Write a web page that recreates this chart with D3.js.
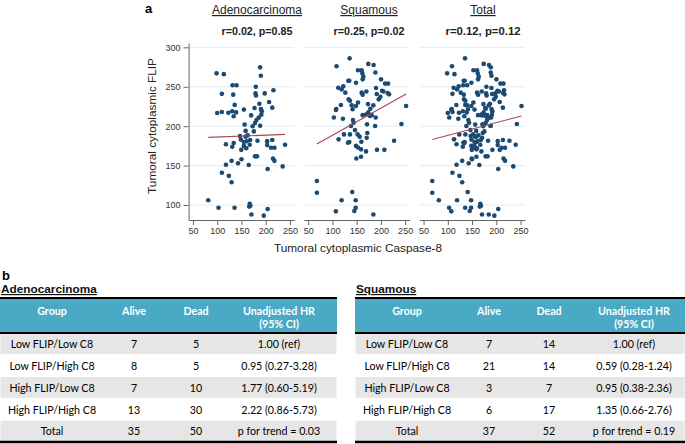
<!DOCTYPE html>
<html><head><meta charset="utf-8">
<script src="https://cdn.jsdelivr.net/npm/d3@7/dist/d3.min.js"></script>
<style>
html,body{margin:0;padding:0;background:#fff;}
svg{display:block;}
</style></head>
<body>
<svg id="chart" width="685" height="444"></svg>
<script>
// ---------- DATA ----------
const panelTitles = ["Adenocarcinoma", "Squamous", "Total"];
const panelStats = ["r=0.02, p=0.85", "r=0.25, p=0.02", "r=0.12,  p=0.12"];
const xTicks = [50, 100, 150, 200, 250];
const yTicks = [100, 150, 200, 250, 300];

const adenoPts = [[98.6,267],[113.7,266],[188.6,274.6],[190,264],[109.6,241],[131.6,252],[139.9,252],[133,240],[179.6,250],[179,241.6],[180,239],[198,241.6],[216,245.5],[207,230.7],[187,228.5],[136,227],[100,216.7],[109.6,218],[123,217],[131,219],[139,217.5],[134,212.5],[155,221],[177,223],[190,221.8],[192,218.8],[191,214.6],[170,213.7],[185.6,210.8],[213.6,223.5],[181,207.8],[178,204],[173,200],[156.5,202],[158.6,194],[175.5,193.4],[188.6,200.6],[147,187.5],[158.6,186.7],[163,188.4],[118,177],[134,178.6],[131,174],[148.8,183],[155,180],[155,175],[161,180.8],[168,182.5],[167,176.5],[160,172],[149.6,170],[183,181.6],[203,181],[203,176],[211,172.7],[218,172.7],[213.6,182.5],[240,176.5],[178,161.7],[182,161.7],[215,159],[218,156],[143,153],[150,158],[129.7,156],[118,151],[165,150.7],[204,145.7],[235,149],[109.6,141],[124,137],[129.7,128.8],[81.5,106],[102.7,96.6],[135.8,96.6],[167,101.7],[168.4,99],[166,98],[170.6,88],[196,86.5],[204,95]];

const squamPts = [[135.5,286],[108.6,276],[174,279],[185,277.6],[152.8,271],[160.3,271],[161.7,267],[163.8,262.8],[162.4,259.4],[188.6,268],[132.8,257.7],[134.8,257.7],[148.6,255],[200.3,259.4],[208.6,254],[214.8,254],[112,248.8],[119,246.7],[122.4,250.5],[126.6,242.5],[160.3,242.5],[162.4,240],[170,244],[190,248.4],[191.4,240.8],[202.4,245],[205.2,244],[214,242],[216.9,240.4],[199,237.4],[195.5,234],[133.4,234],[136.2,232.3],[152.8,230],[173.4,228],[178.3,222.2],[184.5,226.4],[139.7,226.4],[141.7,221.4],[117.6,226.8],[108,221.8],[107.2,220.5],[148.6,225.6],[174,217.5],[170,215],[181,214],[162.4,214],[103,211],[121.7,209.5],[142.4,207.8],[143.8,204.4],[177.6,212.9],[189.3,211],[252,225.6],[242.4,202.7],[171.4,202.3],[188,200.2],[138.3,200.2],[146.6,195],[136.2,189.6],[112.8,183.3],[123.8,189.6],[152,189.6],[156.2,186.7],[170.7,185.4],[172,191.3],[134.8,180],[132,179],[159.7,180.3],[148.6,175],[152.8,173],[159,170.6],[169.3,168],[192,170],[207.2,170],[227.2,181.6],[159,161.3],[149.3,159],[68,130.4],[68,115.6],[119,106],[141,116.5],[148,106],[148,96.6],[145.2,92.4],[107.2,92],[184.5,88]];

const totalPts = adenoPts.concat(squamPts);
const fitSlope = [0.024, 0.345, 0.162];
const fitIntercept = [183.8, 154.0, 172.1];

const tableGroups = ["Low FLIP/Low C8","Low FLIP/High C8","High FLIP/Low C8","High FLIP/High C8","Total"];
const tableHeaders = [["Group"],["Alive"],["Dead"],["Unadjusted HR","(95% CI)"]];
const adenoAlive = [7,8,7,13,35];
const adenoDead = [5,5,10,30,50];
const adenoHR = ["1.00 (ref)","0.95 (0.27-3.28)","1.77 (0.60-5.19)","2.22 (0.86-5.73)","p for trend = 0.03"];
const squamAlive = [7,21,3,6,37];
const squamDead = [14,14,7,17,52];
const squamHR = ["1.00 (ref)","0.59 (0.28-1.24)","0.95 (0.38-2.36)","1.35 (0.66-2.76)","p for trend = 0.19"];

// ---------- LAYOUT ----------
const svg = d3.select("#chart");
const FONT = "'Liberation Sans', Arial, sans-serif";
const TFONT = "Lato, 'Open Sans', sans-serif";
const dotColor = "#1b4a72";
const lineColor = "#a8464d";
const gridColor = "#e3ecf0";
const axisColor = "#666";

const BODY_SIZE = 11.6, HEAD_SIZE = 11.6;
const bodyScale = 0.92;
function fitScale(str, weight, size, target) {
  const t = svg.append("text").attr("font-family", TFONT).attr("font-weight", weight)
    .attr("font-size", size).text(str);
  const w = t.node().getComputedTextLength();
  t.remove();
  return target / w;
}
const headScale = fitScale("Unadjusted HR", "bold", HEAD_SIZE, 72);

const y = d3.scaleLinear().domain([81, 305.5]).range([220, 43]);
const panelLefts = [188.6, 303.8, 419.2];
const panelW = 105.7;
const panels = [adenoPts, squamPts, totalPts];
const titleX = [257, 369, 483];

svg.append("text").attr("x", 145).attr("y", 13).text("a")
  .attr("font-family", FONT).attr("font-weight", "bold").attr("font-size", 13);

panels.forEach((pts, i) => {
  const x = d3.scaleLinear().domain([41, 259]).range([panelLefts[i], panelLefts[i] + panelW]);
  const g = svg.append("g");
  g.selectAll("line.grid").data(yTicks).join("line")
    .attr("x1", panelLefts[i] + 1).attr("x2", panelLefts[i] + panelW)
    .attr("y1", d => y(d)).attr("y2", d => y(d))
    .attr("stroke", gridColor).attr("stroke-width", 1);
  const xa = g.append("g").attr("transform", "translate(0,220)")
    .call(d3.axisBottom(x).tickValues(xTicks).tickSize(5).tickSizeOuter(0).tickPadding(3));
  xa.selectAll("path,line").attr("stroke", axisColor);
  xa.selectAll("text").attr("font-family", FONT).attr("font-size", 9).attr("fill", "#333");
  g.selectAll("circle").data(pts).join("circle")
    .attr("cx", d => x(d[0])).attr("cy", d => y(d[1])).attr("r", 2.3)
    .attr("fill", dotColor);
  const xs = d3.extent(pts, d => d[0]);
  g.append("line")
    .attr("x1", x(xs[0])).attr("y1", y(fitIntercept[i] + fitSlope[i] * xs[0]))
    .attr("x2", x(xs[1])).attr("y2", y(fitIntercept[i] + fitSlope[i] * xs[1]))
    .attr("stroke", lineColor).attr("stroke-width", 1.1);
  svg.append("text").attr("x", titleX[i]).attr("y", 14).attr("text-anchor", "middle")
    .attr("font-family", FONT).attr("font-size", 12).attr("fill", "#222")
    .attr("text-decoration", "underline").text(panelTitles[i]);
  svg.append("text").attr("x", titleX[i]).attr("y", 35).attr("text-anchor", "middle")
    .attr("font-family", FONT).attr("font-size", 11).attr("font-weight", "bold").attr("fill", "#222")
    .attr("textLength", i === 2 ? 75 : 71).attr("lengthAdjust", "spacingAndGlyphs")
    .text(panelStats[i]);
});

const ya = svg.append("g").attr("transform", `translate(${panelLefts[0]},0)`)
  .call(d3.axisLeft(y).tickValues(yTicks).tickSize(5).tickSizeOuter(0).tickPadding(3));
ya.selectAll("path,line").attr("stroke", axisColor);
ya.selectAll("text").attr("font-family", FONT).attr("font-size", 9).attr("fill", "#333");

svg.append("text").attr("transform", "translate(156,126) rotate(-90)").attr("text-anchor", "middle")
  .attr("font-family", FONT).attr("font-size", 11.8).attr("fill", "#222").text("Tumoral cytoplasmic FLIP");
svg.append("text").attr("x", 358).attr("y", 252).attr("text-anchor", "middle")
  .attr("font-family", FONT).attr("font-size", 11.8).attr("fill", "#222").text("Tumoral cytoplasmic Caspase-8");

// ---------- TABLES ----------
svg.append("text").attr("x", 2).attr("y", 280).text("b")
  .attr("font-family", FONT).attr("font-weight", "bold").attr("font-size", 13);

function drawTable(x0, x1, title, cols, alive, dead, hr) {
  const g = svg.append("g");
  g.append("text").attr("x", x0 + 1).attr("y", 293).text(title)
    .attr("font-family", FONT).attr("font-weight", "bold").attr("font-size", 11.8)
    .attr("text-decoration", "underline").attr("fill", "#111");
  const top = 298, hBot = 333, bot = 442;
  g.append("rect").attr("x", x0).attr("y", top).attr("width", x1 - x0).attr("height", hBot - top).attr("fill", "#4aa9c4");
  const rows = d3.scaleBand().domain(d3.range(tableGroups.length)).range([hBot, bot]);
  g.selectAll("rect.row").data(tableGroups).join("rect")
    .attr("x", x0).attr("y", (d, i) => rows(i)).attr("width", x1 - x0).attr("height", rows.bandwidth())
    .attr("fill", (d, i) => i % 2 === 0 ? "#e6e6e6" : "#ffffff")
    .attr("stroke", "#fff").attr("stroke-width", 1);
  tableHeaders.forEach((h, c) => {
    h.forEach((line, k) => {
      g.append("text")
        .attr("transform", `translate(${cols[c]},${315 + k * 13}) scale(${headScale},1)`)
        .attr("text-anchor", "middle")
        .attr("font-family", TFONT).attr("font-weight", "bold").attr("font-size", HEAD_SIZE)
        .attr("fill", "#fff").text(line);
    });
  });
  const cells = tableGroups.map((gname, i) => [gname, alive[i], dead[i], hr[i]]);
  cells.forEach((r, i) => {
    r.forEach((v, c) => {
      g.append("text")
        .attr("transform", `translate(${cols[c]},${rows(i) + rows.bandwidth() / 2 + 4.2}) scale(${bodyScale},1)`)
        .attr("text-anchor", "middle").attr("font-family", TFONT).attr("font-size", BODY_SIZE)
        .attr("fill", "#000").text(v);
    });
  });
  [[top, 2.2], [hBot, 2], [bot, 2.6]].forEach(([yy, w]) => {
    g.append("line").attr("x1", x0).attr("x2", x1).attr("y1", yy).attr("y2", yy)
      .attr("stroke", "#000").attr("stroke-width", w);
  });
}
drawTable(0, 337, "Adenocarcinoma", [52, 134, 196, 279], adenoAlive, adenoDead, adenoHR);
drawTable(355, 685, "Squamous", [407, 489, 549, 634], squamAlive, squamDead, squamHR);
</script>
</body></html>
